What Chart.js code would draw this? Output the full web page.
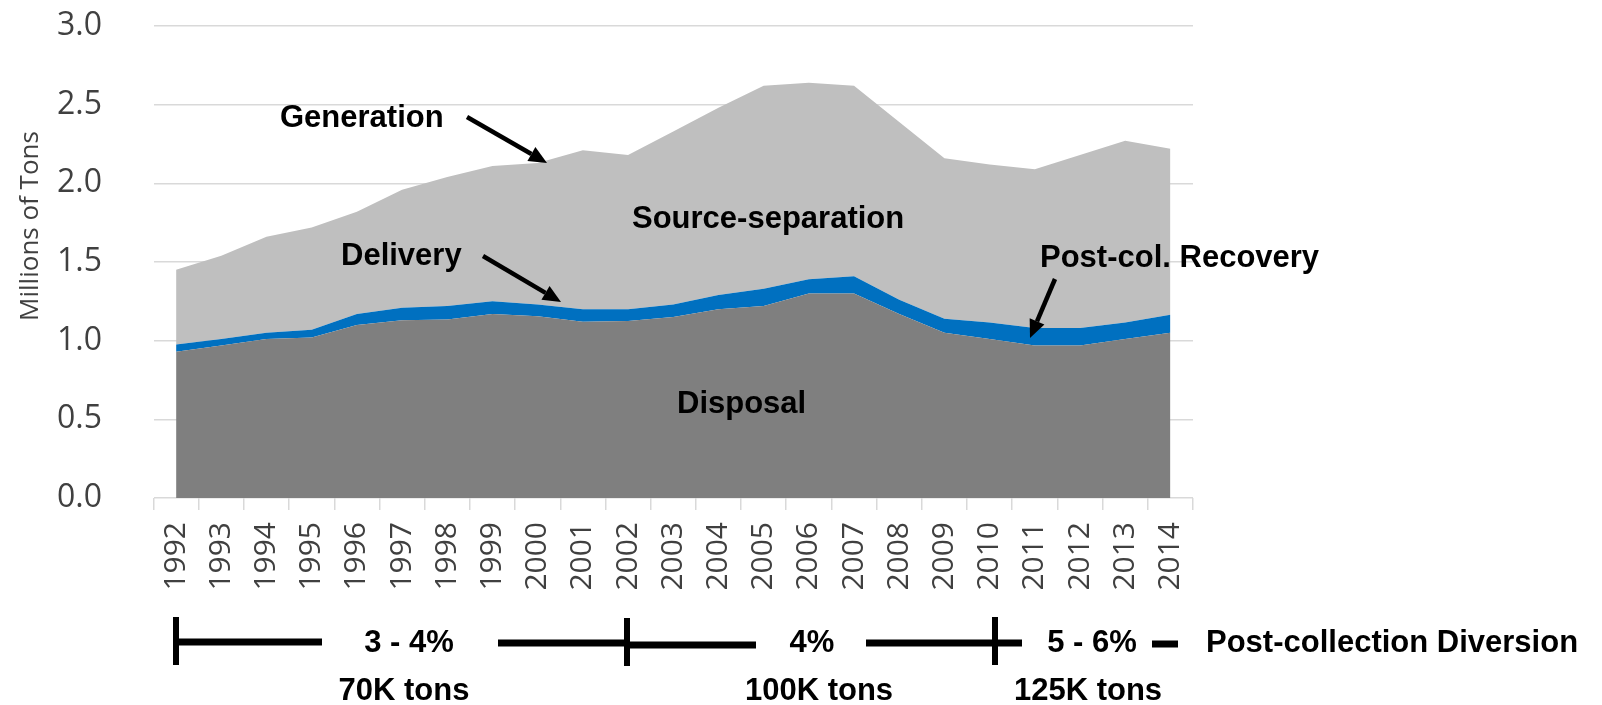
<!DOCTYPE html>
<html>
<head>
<meta charset="utf-8">
<script src="https://cdn.jsdelivr.net/npm/chart.js@4.4.1/dist/chart.umd.min.js"></script>
<style>
  html, body { margin: 0; padding: 0; background: #fff; }
  canvas { display: block; }
</style>
</head>
<body>
<canvas id="chart" width="1602" height="705"></canvas>
<script>
const years = ['1992', '1993', '1994', '1995', '1996', '1997', '1998', '1999', '2000', '2001', '2002',
    '2003', '2004', '2005', '2006', '2007', '2008', '2009', '2010', '2011', '2012', '2013', '2014'];

// top of each band, millions of tons
const disposal = [0.93, 0.97, 1.01, 1.02, 1.10, 1.13, 1.135, 1.17, 1.155, 1.12, 1.125, 1.15,
    1.20, 1.22, 1.30, 1.30, 1.17, 1.05, 1.01, 0.97, 0.97, 1.01, 1.05];
const delivered = [0.975, 1.01, 1.05, 1.07, 1.17, 1.21, 1.22, 1.25, 1.23, 1.20, 1.20, 1.23,
    1.29, 1.33, 1.39, 1.41, 1.26, 1.14, 1.115, 1.08, 1.08, 1.115, 1.165];
const generation = [1.45, 1.54, 1.66, 1.72, 1.82, 1.96, 2.04, 2.11, 2.13, 2.21, 2.18, 2.33,
    2.48, 2.62, 2.64, 2.62, 2.39, 2.16, 2.12, 2.09, 2.18, 2.27, 2.22];

const yTicks = [0, 0.5, 1.0, 1.5, 2.0, 2.5, 3.0];

const diversionRates = ['3 - 4%', '4%', '5 - 6%'];
const diversionTons = ['70K tons', '100K tons', '125K tons'];

const tickColor = '#404040';
const gridColor = '#d9d9d9';
const labelFont = 'bold 31px "Liberation Sans", Arial, sans-serif';

function arrow(ctx, x1, y1, x2, y2) {
    const ang = Math.atan2(y2 - y1, x2 - x1);
    const head = 18, half = 8;
    const bx = x2 - head * Math.cos(ang), by = y2 - head * Math.sin(ang);
    ctx.save();
    ctx.strokeStyle = '#000';
    ctx.fillStyle = '#000';
    ctx.lineWidth = 4.5;
    ctx.beginPath();
    ctx.moveTo(x1, y1);
    ctx.lineTo(bx, by);
    ctx.stroke();
    ctx.beginPath();
    ctx.moveTo(x2, y2);
    ctx.lineTo(bx + half * Math.sin(ang), by - half * Math.cos(ang));
    ctx.lineTo(bx - half * Math.sin(ang), by + half * Math.cos(ang));
    ctx.closePath();
    ctx.fill();
    ctx.restore();
}

function hline(ctx, x1, x2, y, w) {
    ctx.fillRect(x1, y - w / 2, x2 - x1, w);
}

const annotations = {
    id: 'annotations',
    afterDraw(chart) {
        const ctx = chart.ctx;

        // y axis title
        ctx.save();
        ctx.fillStyle = tickColor;
        ctx.font = '26px "Open Sans", sans-serif';
        ctx.translate(38, 226);
        ctx.rotate(-Math.PI / 2);
        ctx.textAlign = 'center';
        ctx.textBaseline = 'alphabetic';
        ctx.fillText('Millions of Tons', 0, 0);
        ctx.restore();

        ctx.save();
        ctx.fillStyle = '#000';
        ctx.font = labelFont;
        ctx.textBaseline = 'alphabetic';
        ctx.textAlign = 'left';
        ctx.fillText('Generation', 280, 127);
        ctx.fillText('Source-separation', 632, 228);
        ctx.fillText('Delivery', 341, 265);
        ctx.fillText('Post-col. Recovery', 1040, 267);
        ctx.fillText('Disposal', 677, 413);
        ctx.restore();

        arrow(ctx, 467, 117, 547, 163);
        arrow(ctx, 483, 256, 561, 302);
        arrow(ctx, 1055, 279, 1030, 338);

        // post-collection diversion brackets
        ctx.save();
        ctx.fillStyle = '#000';
        hline(ctx, 176, 322, 642, 7);
        hline(ctx, 498, 627, 643, 7);
        hline(ctx, 627, 756, 645, 7);
        hline(ctx, 866, 995, 643, 7);
        hline(ctx, 995, 1022, 643, 7);
        hline(ctx, 1152, 1178, 644, 7);
        ctx.fillRect(173, 617, 6, 48);
        ctx.fillRect(624, 618, 6, 48);
        ctx.fillRect(992, 617, 6, 48);

        ctx.font = labelFont;
        ctx.textAlign = 'center';
        ctx.textBaseline = 'alphabetic';
        const rateX = [409, 812, 1092];
        const tonsX = [404, 819, 1088];
        diversionRates.forEach((t, i) => ctx.fillText(t, rateX[i], 652));
        diversionTons.forEach((t, i) => ctx.fillText(t, tonsX[i], 700));
        ctx.textAlign = 'left';
        ctx.fillText('Post-collection Diversion', 1206, 652);
        ctx.restore();
    }
};

new Chart(document.getElementById('chart'), {
    type: 'line',
    data: {
        labels: years,
        datasets: [
            {
                label: 'Disposal',
                data: disposal,
                fill: 'origin',
                backgroundColor: '#7f7f7f',
                borderColor: '#7f7f7f',
                borderWidth: 0,
                pointRadius: 0,
                tension: 0
            },
            {
                label: 'Post-col. Recovery',
                data: delivered,
                fill: '-1',
                backgroundColor: '#0070c0',
                borderColor: '#0070c0',
                borderWidth: 0,
                pointRadius: 0,
                tension: 0
            },
            {
                label: 'Source-separation',
                data: generation,
                fill: '-1',
                backgroundColor: '#bfbfbf',
                borderColor: '#bfbfbf',
                borderWidth: 0,
                pointRadius: 0,
                tension: 0
            }
        ]
    },
    options: {
        responsive: false,
        animation: false,
        layout: { padding: { left: 57, right: 409, top: 26, bottom: 0 } },
        plugins: {
            legend: { display: false },
            tooltip: { enabled: false }
        },
        scales: {
            x: {
                offset: true,
                grid: {
                    offset: true,
                    drawOnChartArea: false,
                    drawTicks: true,
                    tickLength: 12,
                    color: gridColor,
                    lineWidth: 1.5
                },
                border: { display: false },
                ticks: {
                    minRotation: 90,
                    maxRotation: 90,
                    autoSkip: false,
                    padding: 12,
                    color: tickColor,
                    font: { family: '"Open Sans", sans-serif', size: 30 }
                },
                afterFit: s => { s.height = 207; }
            },
            y: {
                min: 0,
                max: 3,
                afterBuildTicks: s => { s.ticks = yTicks.map(v => ({ value: v })); },
                ticks: {
                    padding: 0,
                    crossAlign: 'far',
                    color: tickColor,
                    font: { family: '"Open Sans", sans-serif', size: 32 },
                    callback: v => Number(v).toFixed(1)
                },
                grid: { color: gridColor, lineWidth: 1.5, drawTicks: false },
                border: { display: false },
                afterFit: s => { s.width = 96.5; }
            }
        }
    },
    plugins: [annotations]
});
</script>
</body>
</html>
